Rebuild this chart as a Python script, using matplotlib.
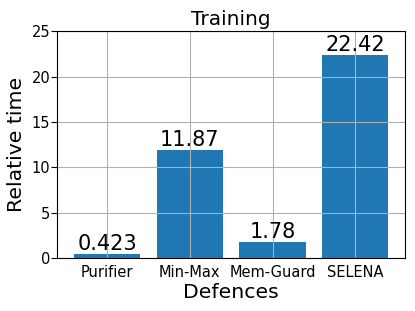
import matplotlib
matplotlib.use("Agg")
import matplotlib.pyplot as plt

defences = ["Purifier", "Min-Max", "Mem-Guard", "SELENA"]
rel_time = [0.423, 11.87, 1.78, 22.42]
bar_labels = ["0.423", "11.87", "1.78", "22.42"]

fig, ax = plt.subplots(figsize=(4.15, 3.11), dpi=100)
bars = ax.bar(defences, rel_time, color="#1f77b4", width=0.8)
ax.bar_label(bars, labels=bar_labels, fontsize=15, padding=0)
ax.grid(True)
ax.set_xlim(-0.6, 3.6)
ax.set_ylim(0, 25)
ax.set_title("Training", fontsize=14.5, pad=4.5)
ax.set_xlabel("Defences", fontsize=14.7, labelpad=2)
ax.set_ylabel("Relative time", fontsize=14.7, labelpad=4)
ax.tick_params(axis="x", labelsize=10.5, length=0, pad=5)
ax.tick_params(axis="y", labelsize=10.5, length=4, pad=1)
fig.subplots_adjust(left=0.138, right=0.976, top=0.9, bottom=0.17)
fig.savefig("out.png", dpi=100)
